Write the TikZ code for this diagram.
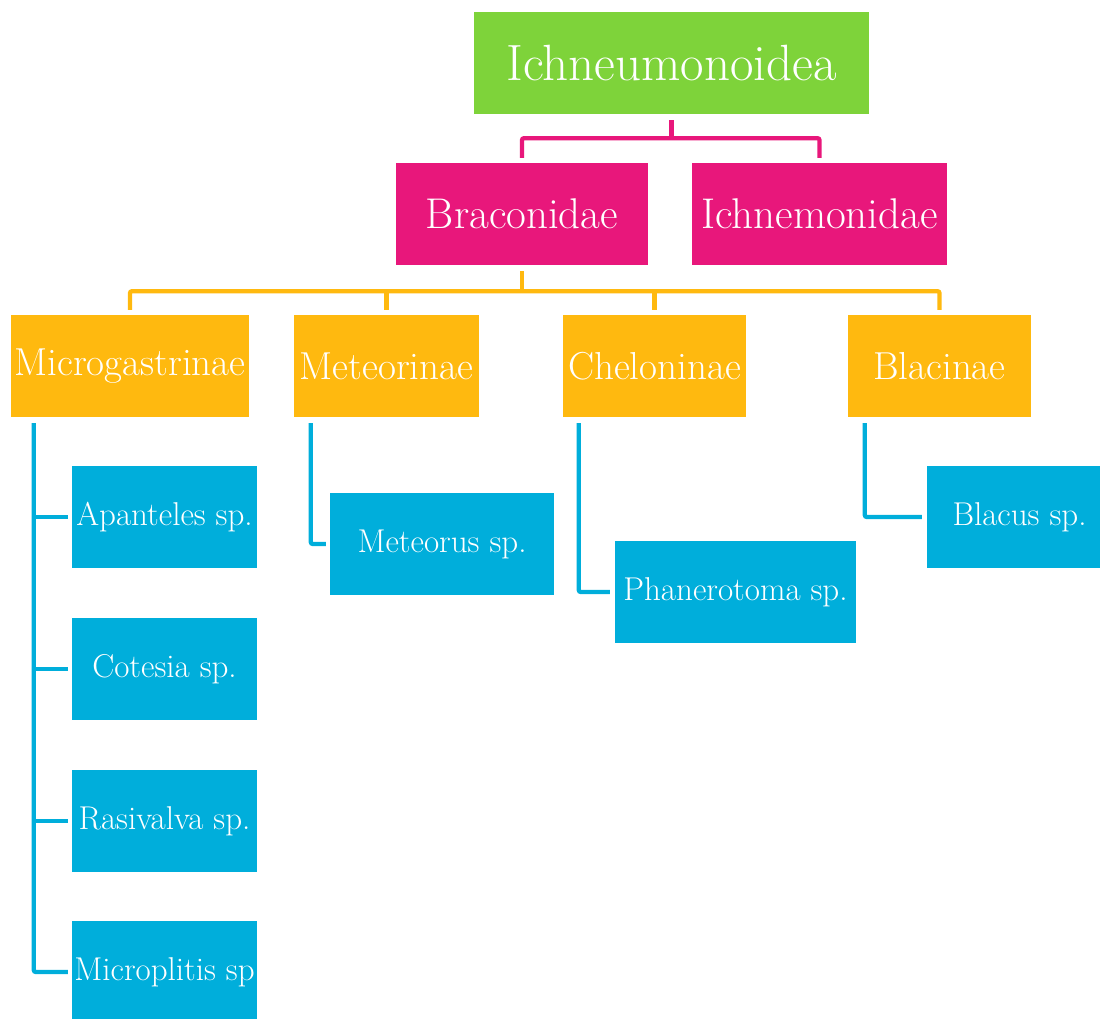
\documentclass[tikz,border=0pt]{standalone}
\usepackage{fontspec}
\usetikzlibrary{calc}
\definecolor{cgreen}{HTML}{7ED33A}
\definecolor{cpink}{HTML}{E8177B}
\definecolor{corange}{HTML}{FFB90F}
\definecolor{cblue}{HTML}{00AEDB}
\begin{document}
\begin{tikzpicture}[x=1pt,y=-1pt,
  box/.style={rectangle,inner sep=0pt,minimum height=102pt,text=white,anchor=center},
  lvA/.style={box,fill=cgreen,minimum width=395pt,font=\fontsize{51}{58}\selectfont},
  lvB/.style={box,fill=cpink,font=\fontsize{43}{50}\selectfont},
  lvC/.style={box,fill=corange,font=\fontsize{39}{46}\selectfont},
  lvD/.style={box,fill=cblue,font=\fontsize{33}{40}\selectfont},
  conn/.style={line width=4.3pt,rounded corners=2pt,line cap=butt},
  pk/.style={conn,draw=cpink},
  og/.style={conn,draw=corange},
  bl/.style={conn,draw=cblue}]
\useasboundingbox (0,0) rectangle (1100,1019);
\begin{scope}
\clip (0,0) rectangle (1100,1019);
\node[lvA] (top) at (671.5,63) {Ichneumonoidea};
\node[lvB,minimum width=252pt] (brac) at (522,214) {Braconidae};
\node[lvB,minimum width=255pt] (ichn) at (819.5,214) {Ichnemonidae};
\node[lvC,minimum width=238pt] (micro) at (130,366) {Microgastrinae};
\node[lvC,minimum width=185pt] (meteo) at (386.5,366) {Meteorinae};
\node[lvC,minimum width=183pt] (chel) at (654.5,366) {Cheloninae};
\node[lvC,minimum width=183pt] (blac) at (939.5,366) {Blacinae};
\node[lvD,minimum width=185pt] (apan) at (164.5,517) {Apanteles sp.};
\node[lvD,minimum width=185pt] (cot) at (164.5,669) {Cotesia sp.};
\node[lvD,minimum width=185pt] (ras) at (164.5,821) {Rasivalva sp.};
\node[lvD,minimum width=185pt] (microp) at (164.5,972) {Microplitis sp};
\node[lvD,minimum width=224pt] (meteor) at (442,544) {Meteorus sp.};
\node[lvD,minimum width=241pt] (phan) at (735.5,592) {Phanerotoma sp.};
\node[lvD,minimum width=185pt] (blacus) at (1019.5,517) {Blacus sp.};
\end{scope}
% pink connectors
\draw[pk] ([yshift=-6pt]top.south) -- ++(0,18) coordinate (pj);
\draw[pk] ([yshift=5pt]brac.north) |- (pj) -| ([yshift=5pt]ichn.north);
% orange connectors
\draw[og] ([yshift=-6pt]brac.south) -- ++(0,20) coordinate (oj);
\draw[og] ([yshift=5pt]micro.north) |- (oj) -| ([yshift=5pt]blac.north);
\draw[og] ([yshift=5pt]meteo.north) -- (meteo.north |- oj);
\draw[og] ([yshift=5pt]chel.north) -- (chel.north |- oj);
% blue connectors
\coordinate (mx) at ([xshift=23pt,yshift=-6pt]micro.south west);
\draw[bl] (mx) |- ([xshift=-4pt]microp.west);
\draw[bl] (mx |- apan.west) -- ([xshift=-4pt]apan.west);
\draw[bl] (mx |- cot.west) -- ([xshift=-4pt]cot.west);
\draw[bl] (mx |- ras.west) -- ([xshift=-4pt]ras.west);
\draw[bl] ([xshift=17pt,yshift=-6pt]meteo.south west) |- ([xshift=-4pt]meteor.west);
\draw[bl] ([xshift=16pt,yshift=-6pt]chel.south west) |- ([xshift=-5pt]phan.west);
\draw[bl] ([xshift=17pt,yshift=-6pt]blac.south west) |- ([xshift=-5pt]blacus.west);
\end{tikzpicture}
\end{document}
